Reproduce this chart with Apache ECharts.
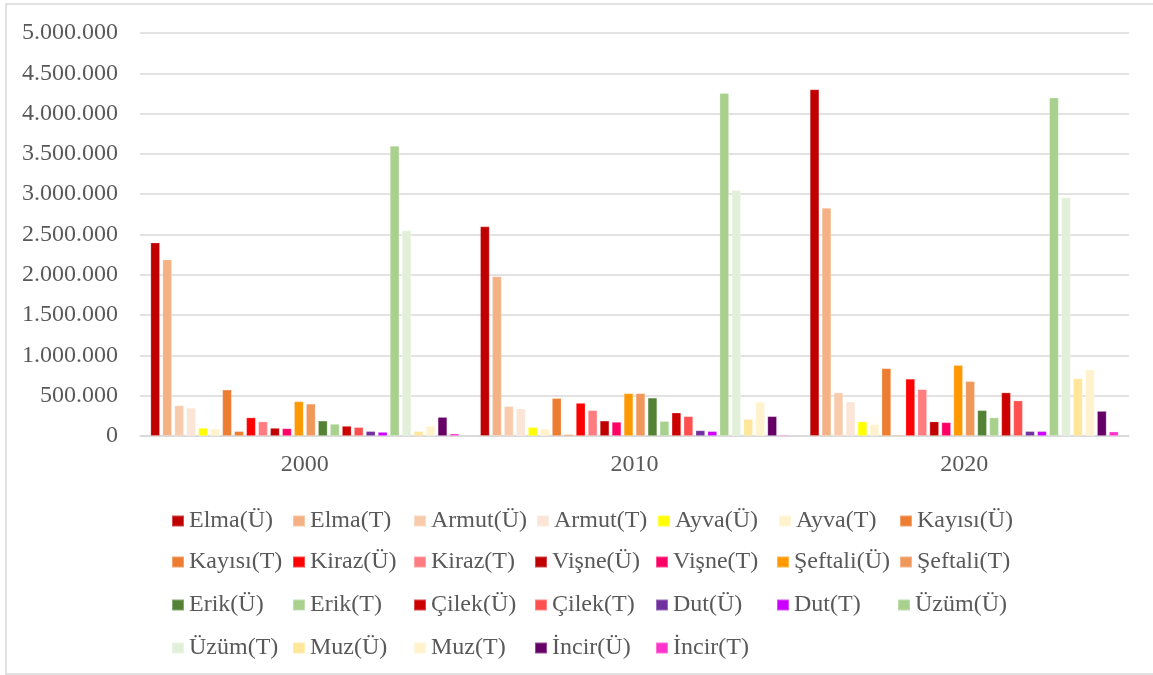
<!DOCTYPE html>
<html>
<head>
<meta charset="utf-8">
<script src="https://cdn.jsdelivr.net/npm/echarts@6/dist/echarts.min.js"></script>
<style>
  html, body { margin: 0; padding: 0; background: #ffffff; }
  #chart { width: 1153px; height: 675px; }
</style>
</head>
<body>
<div id="chart"></div>
<script>
// Years on the category axis
const years = ['2000', '2010', '2020'];

// Series names (Ü = üretim, T = tüketim)
const seriesNames = [
  'Elma(Ü)', 'Elma(T)', 'Armut(Ü)', 'Armut(T)', 'Ayva(Ü)', 'Ayva(T)', 'Kayısı(Ü)',
  'Kayısı(T)', 'Kiraz(Ü)', 'Kiraz(T)', 'Vişne(Ü)', 'Vişne(T)', 'Şeftali(Ü)', 'Şeftali(T)',
  'Erik(Ü)', 'Erik(T)', 'Çilek(Ü)', 'Çilek(T)', 'Dut(Ü)', 'Dut(T)', 'Üzüm(Ü)',
  'Üzüm(T)', 'Muz(Ü)', 'Muz(T)', 'İncir(Ü)', 'İncir(T)'
];

// Values per year, in the same order as seriesNames
const values2000 = [
  2400000, 2190000, 380000, 350000, 100000, 90000, 575000,
  60000, 230000, 180000, 100000, 95000, 430000, 400000,
  190000, 150000, 125000, 110000, 60000, 50000, 3600000,
  2550000, 60000, 125000, 235000, 30000
];
const values2010 = [
  2600000, 1980000, 370000, 340000, 110000, 90000, 470000,
  20000, 410000, 320000, 190000, 175000, 530000, 530000,
  475000, 185000, 290000, 245000, 70000, 60000, 4255000,
  3050000, 210000, 425000, 245000, 15000
];
const values2020 = [
  4300000, 2830000, 540000, 425000, 180000, 145000, 840000,
  15000, 710000, 580000, 180000, 170000, 880000, 680000,
  320000, 230000, 540000, 440000, 60000, 60000, 4200000,
  2960000, 715000, 825000, 310000, 55000
];

// Bar colours, one per series
const seriesColors = [
  '#C00000', '#F4B183', '#F8CBAD', '#FBE5D6', '#FFFF00', '#FFF2CC', '#ED7D31',
  '#ED7D31', '#FF0000', '#FF7C80', '#C00000', '#FF0066', '#FF9900', '#F0975A',
  '#548235', '#A9D18E', '#CC0000', '#FF5050', '#7030A0', '#CC00FF', '#A9D18E',
  '#E2F0D9', '#FFE699', '#FFF2CC', '#660066', '#FF33CC'
];

// Y axis scale
const yMin = 0;
const yMax = 5000000;
const yStep = 500000;

const FONT = '"Liberation Serif", "Times New Roman", serif';
const TEXT_COLOR = '#595959';
const GRID_COLOR = '#D9D9D9';

function thousands(v) {
  return String(v).replace(/\B(?=(\d{3})+(?!\d))/g, '.');
}

const series = seriesNames.map((name, i) => ({
  name: name,
  type: 'bar',
  data: [values2000[i], values2010[i], values2020[i]],
  barWidth: 9.5,
  barGap: '26%',
  itemStyle: {
    color: seriesColors[i],
    borderColor: 'rgba(255,255,255,0.3)',
    borderWidth: 0.8
  }
}));

// Legend laid out in rows of seven, fixed-width columns
const perRow = 7;
const rowCenters = [516, 557, 600, 643];
const legends = [];
for (let r = 0; r * perRow < seriesNames.length; r++) {
  legends.push({
    data: seriesNames.slice(r * perRow, (r + 1) * perRow),
    orient: 'horizontal',
    left: 166,
    top: rowCenters[r] - 14,
    itemWidth: 12,
    itemHeight: 11,
    itemGap: 9,
    icon: 'rect',
    selectedMode: false,
    textStyle: {
      fontFamily: FONT,
      fontSize: 24,
      color: TEXT_COLOR,
      width: 94,
      lineHeight: 28,
      overflow: 'none'
    }
  });
}

const chart = echarts.init(document.getElementById('chart'), null, { renderer: 'canvas' });
chart.setOption({
  animation: false,
  backgroundColor: '#ffffff',
  color: seriesColors,
  grid: { left: 140, right: 24, top: 33, bottom: 239 },
  legend: legends,
  xAxis: {
    type: 'category',
    data: years,
    axisTick: { show: false },
    axisLine: { show: true, lineStyle: { color: GRID_COLOR, width: 1.5 } },
    axisLabel: { fontFamily: FONT, fontSize: 24, color: TEXT_COLOR, margin: 17 }
  },
  yAxis: {
    type: 'value',
    min: yMin,
    max: yMax,
    interval: yStep,
    axisLine: { show: false },
    axisTick: { show: false },
    splitLine: { lineStyle: { color: GRID_COLOR, width: 1.5 } },
    axisLabel: {
      fontFamily: FONT,
      fontSize: 24,
      color: TEXT_COLOR,
      margin: 22,
      formatter: thousands
    }
  },
  graphic: [{
    type: 'rect',
    shape: { x: 6, y: 4, width: 1160, height: 670 },
    style: { fill: 'none', stroke: GRID_COLOR, lineWidth: 1.5 },
    silent: true
  }],
  series: series
});
</script>
</body>
</html>
